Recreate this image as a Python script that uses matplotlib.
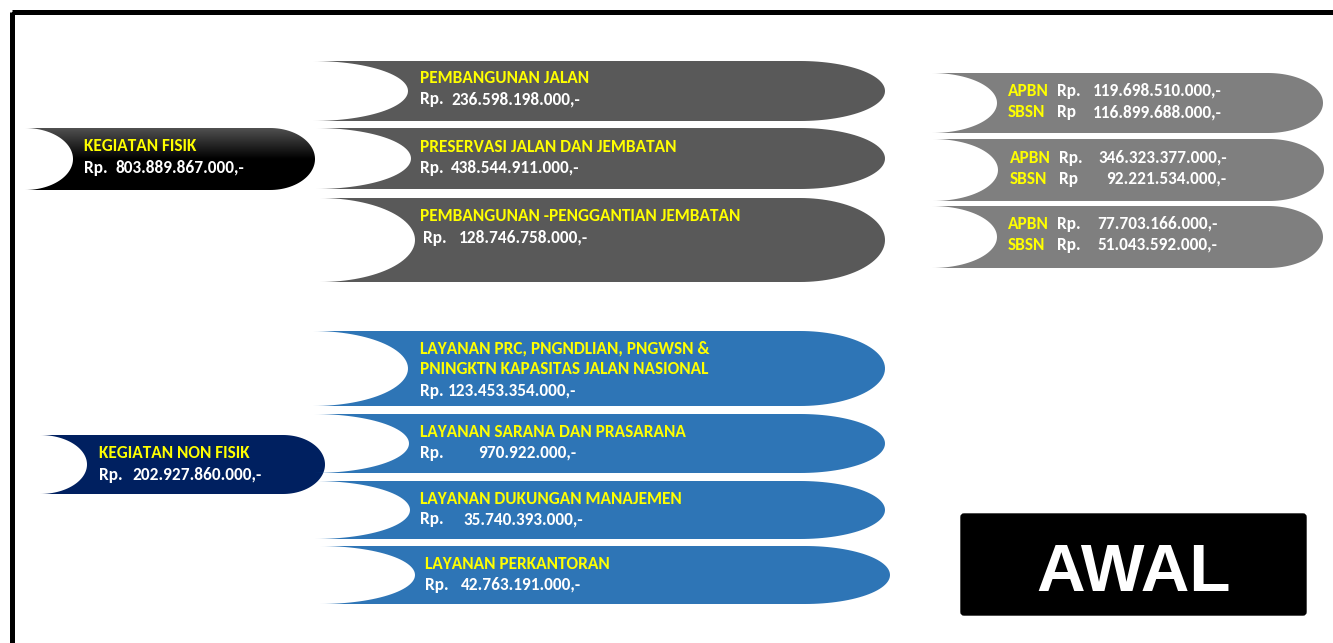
import numpy as np
import matplotlib
matplotlib.use("Agg")
import matplotlib.pyplot as plt
from matplotlib.path import Path
from matplotlib.patches import PathPatch, Rectangle, FancyBboxPatch

# ---------------- data ----------------
parent_labels = ["KEGIATAN FISIK", "KEGIATAN NON FISIK"]
parent_values = ["803.889.867.000,-", "202.927.860.000,-"]

fisik_labels = ["PEMBANGUNAN JALAN", "PRESERVASI JALAN DAN JEMBATAN",
                "PEMBANGUNAN -PENGGANTIAN JEMBATAN"]
fisik_values = ["236.598.198.000,-", "438.544.911.000,-", "128.746.758.000,-"]

fund_sources = ["APBN", "SBSN"]
apbn_prefix = ["Rp.", "Rp.", "Rp."]
apbn_values = ["119.698.510.000,-", "346.323.377.000,-", "77.703.166.000,-"]
sbsn_prefix = ["Rp", "Rp", "Rp."]
sbsn_values = ["116.899.688.000,-", "92.221.534.000,-", "51.043.592.000,-"]

nonfisik_labels = [["LAYANAN PRC, PNGNDLIAN, PNGWSN &", "PNINGKTN KAPASITAS JALAN NASIONAL"],
                   ["LAYANAN SARANA DAN PRASARANA"],
                   ["LAYANAN DUKUNGAN MANAJEMEN"],
                   ["LAYANAN PERKANTORAN"]]
nonfisik_values = ["123.453.354.000,-", "970.922.000,-", "35.740.393.000,-", "42.763.191.000,-"]

stage_label = "AWAL"

# ---------------- style ----------------
FONT = ["Carlito", "Roboto Condensed", "DejaVu Sans"]
FS = 12.4
YEL = "#FFFF00"
WHITE = "#FFFFFF"
CAP = FS / 72 * 100 * 0.644  # cap height in px

fig = plt.figure(figsize=(13.33, 6.43), dpi=100)
ax = fig.add_axes([0, 0, 1, 1])
ax.set_xlim(0, 1333)
ax.set_ylim(643, 0)
ax.axis("off")


def banner_path(x0, x1, y0, y1, d, r):
    h = (y1 - y0) / 2.0
    ym = (y0 + y1) / 2.0
    t = np.linspace(-np.pi / 2, np.pi / 2, 60)
    right = np.column_stack([(x1 - r) + r * np.cos(t), ym + h * np.sin(t)])
    t2 = np.linspace(np.pi / 2, -np.pi / 2, 60)
    left = np.column_stack([x0 + d * np.cos(t2), ym + h * np.sin(t2)])
    pts = np.vstack([[[x0, y0]], right, [[x0, y1]], left])
    return Path(pts, closed=False)


def banner(x0, x1, y0, y1, d, r, color, gradient=None):
    p = banner_path(x0, x1, y0, y1, d, r)
    if gradient is None:
        ax.add_patch(PathPatch(p, facecolor=color, edgecolor="none"))
    else:
        patch = PathPatch(p, facecolor="none", edgecolor="none")
        ax.add_patch(patch)
        n = 100
        vals = np.linspace(0, 1, n)
        c0 = np.array(matplotlib.colors.to_rgb(gradient[0]))
        c1 = np.array(matplotlib.colors.to_rgb(gradient[1]))
        frac = np.clip(vals / 0.5, 0, 1)[:, None]
        img = c0 * (1 - frac) + c1 * frac
        img = np.repeat(img[:, None, :], 2, axis=1)
        im = ax.imshow(img, extent=(x0, x1, y1, y0), aspect="auto",
                       interpolation="bilinear", zorder=1)
        im.set_clip_path(patch)


def txt(x, yc, s, color, size=FS, weight="bold", family=FONT, ha="left"):
    ax.text(x, yc + CAP / 2 * size / FS, s, color=color, fontsize=size,
            fontweight=weight, family=family, ha=ha, va="baseline", zorder=5)


# frame
ax.add_patch(Rectangle((12, 12), 1400, 700, fill=False, edgecolor="black",
                       linewidth=3.6, zorder=0))

# parent boxes
parent_boxes = [(25, 315, 128, 190, 48, 45), (40, 325, 435, 494, 47, 42)]
parent_text = [(84, 116, 145.5, 167), (99, 132, 452.5, 474)]
banner(*parent_boxes[0], None, gradient=("#505050", "#000000"))
banner(*parent_boxes[1], "#002060")
for lab, val, (tx, nx, y1, y2) in zip(parent_labels, parent_values, parent_text):
    txt(tx, y1, lab, YEL)
    txt(tx, y2, "Rp.", WHITE)
    txt(nx, y2, val, WHITE)

# fisik sub boxes
fisik_boxes = [(313, 885, 61, 121), (316, 885, 128, 189), (320, 885, 198, 282)]
fisik_text = [(420, 420, 451, 77.5, 98.5), (420, 420, 451, 146, 167),
              (420, 423, 459, 215, 237)]
for (x0, x1, y0, y1), lab, val, (tx, rx, nx, ya, yb) in zip(fisik_boxes, fisik_labels,
                                                             fisik_values, fisik_text):
    banner(x0, x1, y0, y1, 95, 85, "#595959")
    txt(tx, ya, lab, YEL)
    txt(rx, yb, "Rp.", WHITE)
    txt(nx, yb, val, WHITE)

# funding boxes
fund_boxes = [(932, 1323, 73, 133), (933, 1324, 139, 201), (932, 1323, 206, 268)]
fund_text = [(1008, 1057, 1093, 1093, 90, 111.5),
             (1010, 1059, 1098, 1106, 157, 178),
             (1008, 1057, 1097, 1097, 223, 244)]
for (x0, x1, y0, y1), ap, av, sp, sv, (fx, rx, nxa, nxs, ya, yb) in zip(
        fund_boxes, apbn_prefix, apbn_values, sbsn_prefix, sbsn_values, fund_text):
    banner(x0, x1, y0, y1, 65, 55, "#7F7F7F")
    txt(fx, ya, fund_sources[0], YEL)
    txt(rx, ya, ap, WHITE)
    txt(nxa, ya, av, WHITE)
    txt(fx, yb, fund_sources[1], YEL)
    txt(rx, yb, sp, WHITE)
    txt(nxs, yb, sv, WHITE)

# non fisik sub boxes
nf_boxes = [(313, 885, 331, 406), (314, 885, 414, 473), (315, 885, 481, 539),
            (320, 890, 546, 604)]
nf_text = [(420, 448, [348, 368.5], 390), (420, 478, [431], 452),
           (420, 463, [498], 518.5), (425, 461, [563], 584)]
for (x0, x1, y0, y1), labs, val, (tx, nx, ys, yr) in zip(nf_boxes, nonfisik_labels,
                                                          nonfisik_values, nf_text):
    banner(x0, x1, y0, y1, 95, 85, "#2E75B6")
    for lab, yy in zip(labs, ys):
        txt(tx, yy, lab, YEL)
    txt(tx, yr, "Rp.", WHITE)
    txt(nx, yr, val, WHITE)

# stage box
ax.add_patch(FancyBboxPatch((963, 516), 341, 97, boxstyle="round,pad=2,rounding_size=3",
                            facecolor="black", edgecolor="black", zorder=2))
ax.text(1133.5, 567 + 24, stage_label, color=WHITE, fontsize=48.5, fontweight="bold",
        family=["Liberation Sans", "DejaVu Sans"], ha="center", va="baseline", zorder=5)

fig.savefig("out.png", dpi=100)
